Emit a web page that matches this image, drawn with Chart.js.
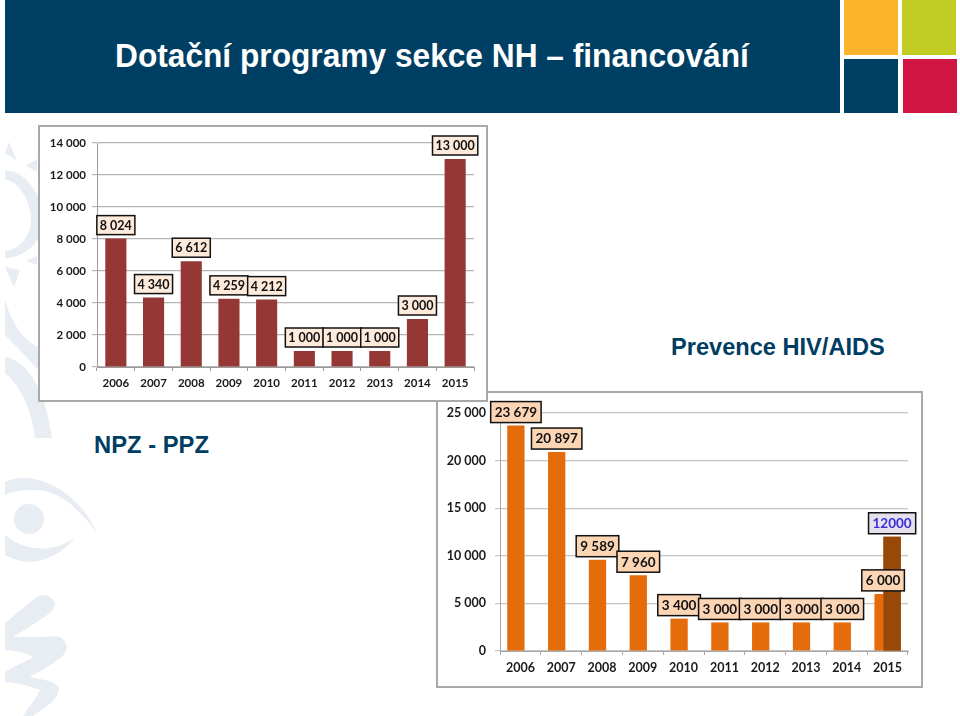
<!DOCTYPE html>
<html lang="cs">
<head>
<meta charset="utf-8">
<title>Dotační programy sekce NH – financování</title>
<script src="https://cdn.jsdelivr.net/npm/chart.js@4"></script>
<style>
  html, body { margin: 0; padding: 0; background: #fff; }
  body { position: relative; width: 960px; height: 716px; overflow: hidden; font-family: "Liberation Sans", Arial, sans-serif; }
  .block { position: absolute; }
  .label { position: absolute; margin: 0; font-weight: bold; color: #003d63; white-space: pre; line-height: 1; }
  .frame { position: absolute; background: #fff; box-sizing: border-box; border: 2px solid #a9a9a9; }
  .frame canvas { position: absolute; left: -2px; top: -2px; }
  #decor { position: absolute; left: 0; top: 0; }
</style>
</head>
<body>
<svg id="decor" width="960" height="716" viewBox="0 0 960 716">
  <g fill="#e7edf2">
    <path d="M5 153 L9 142 L17 161 Z"/>
    <path d="M26 166 L37 159 L37 172 Z"/>
    <path d="M5 171 C20 168 40 190 45 215 C45 240 25 258 5 258 L5 251 C20 250 32 235 31 217 C30 200 18 180 5 180 Z"/>
    <path d="M26 261 L37 256 L37 265 Z"/>
    <path d="M5 267 L20 270 L14 287 Z"/>
    <path d="M5 300 C12 325 25 342 40 348 L40 372 C28 358 15 345 5 335 Z"/>
    <path d="M5 357 C25 360 45 385 52 438 L35 438 C32 410 20 385 5 373 Z"/>
    <path d="M5 482 C30 470 75 485 97 533 C80 510 60 490 35 490 C20 490 10 492 5 495 Z"/>
    <path d="M5 535 C30 555 60 550 75 537 C60 558 30 570 5 555 Z"/>
    <circle cx="29" cy="519" r="15"/>
    <path d="M5 623 L33 600 C40 593 50 593 55 603 C55 612 45 617 13 637 L43 637 C55 636 64 634 67 647 C66 660 40 670 30 677 C40 680 59 680 59 690 C57 700 45 708 33 716 L23 716 C30 705 38 696 40 690 C25 684 10 682 5 682 L5 672 C15 665 30 660 33 657 C25 652 10 650 5 650 Z"/>
  </g>
</svg>

<div class="block" style="left:5px;top:0;width:835px;height:113px;background:#003f64"></div>
<div class="block" style="left:844px;top:0;width:54px;height:55px;background:#fbb42c"></div>
<div class="block" style="left:902px;top:0;width:54px;height:55px;background:#c1cd23"></div>
<div class="block" style="left:844px;top:59px;width:54px;height:54px;background:#003f64"></div>
<div class="block" style="left:903px;top:59px;width:54px;height:54px;background:#d01543"></div>

<h1 class="label" style="left:115px;top:39px;font-size:33px;color:#fff;transform:scaleX(0.96);transform-origin:left top">Dotační programy sekce NH – financování</h1>
<p class="label" style="left:671px;top:336px;font-size:23.6px">Prevence HIV/AIDS</p>
<p class="label" style="left:94px;top:433px;font-size:23.8px">NPZ - PPZ</p>

<div class="frame" style="left:436px;top:391px;width:487px;height:297px"><canvas id="hivChart" width="487" height="297"></canvas></div>
<div class="frame" style="left:38px;top:125px;width:450px;height:277px"><canvas id="npzChart" width="450" height="277"></canvas></div>

<script>
const years = ['2006', '2007', '2008', '2009', '2010', '2011', '2012', '2013', '2014', '2015']

const npzValues = [8024, 4340, 6612, 4259, 4212, 1000, 1000, 1000, 3000, 13000]
const npzLabels = ['8 024', '4 340', '6 612', '4 259', '4 212', '1 000', '1 000', '1 000', '3 000', '13 000']
const npzTicks = ['0', '2 000', '4 000', '6 000', '8 000', '10 000', '12 000', '14 000']

const hivValues = [23679, 20897, 9589, 7960, 3400, 3000, 3000, 3000, 3000, 6000]
const hivLabels = ['23 679', '20 897', '9 589', '7 960', '3 400', '3 000', '3 000', '3 000', '3 000', '6 000']
const hivExtra = [null, null, null, null, null, null, null, null, null, 12000]
const hivExtraLabels = ['', '', '', '', '', '', '', '', '', '12000']
const hivTicks = ['0', '5 000', '10 000', '15 000', '20 000', '25 000']

const fontName = 'Lato'
const textColor = '#1a1a1a'

// draws the boxed value labels, sitting just above each bar
const boxLabels = {
  id: 'boxLabels',
  afterDatasetsDraw(chart, args, opts) {
    const ctx = chart.ctx
    // the second series has to lie over the first one
    if (opts.redraw !== undefined) {
      chart.getDatasetMeta(opts.redraw).controller.draw()
    }
    ctx.save()
    opts.sets.forEach(set => {
      const meta = chart.getDatasetMeta(set.dataset)
      set.texts.forEach((text, i) => {
        if (!text) return
        const bar = meta.data[i]
        ctx.font = `bold ${opts.size}px ${fontName}`
        const w = ctx.measureText(text).width + opts.padX * 2
        const h = opts.height
        const x = bar.x - w / 2
        const y = bar.y - opts.gap - h
        ctx.fillStyle = set.fill
        ctx.strokeStyle = '#111'
        ctx.lineWidth = 1.5
        ctx.fillRect(x, y, w, h)
        ctx.strokeRect(x, y, w, h)
        ctx.fillStyle = set.color
        ctx.textAlign = 'center'
        ctx.textBaseline = 'middle'
        ctx.fillText(text, bar.x, y + h / 2 + 0.5)
      })
    })
    ctx.restore()
  }
}

const makeScales = (max, step, tickLabels, size, yWidth, xHeight, yPad, gridColor, axisColor) => ({
  x: {
    grid: { offset: true, drawOnChartArea: false, drawTicks: true, tickLength: 4, color: axisColor },
    border: { color: axisColor },
    ticks: { color: textColor, font: { family: fontName, size: size, weight: 'bold' }, padding: 5, maxRotation: 0, autoSkip: false },
    afterFit: scale => { scale.height = xHeight }
  },
  y: {
    min: 0,
    max: max,
    grid: { color: gridColor, lineWidth: 1.2, tickLength: 5 },
    border: { color: axisColor },
    ticks: {
      stepSize: step,
      color: textColor,
      font: { family: fontName, size: size, weight: 'bold' },
      padding: yPad,
      callback: (value, index) => tickLabels[index]
    },
    afterFit: scale => { scale.width = yWidth }
  }
})

new Chart(document.getElementById('npzChart'), {
  type: 'bar',
  data: {
    labels: years,
    datasets: [{
      data: npzValues,
      backgroundColor: '#953735',
      barPercentage: 0.56,
      categoryPercentage: 1
    }]
  },
  options: {
    responsive: false,
    animation: false,
    layout: { padding: { top: 18, right: 14, left: 0, bottom: 0 } },
    scales: makeScales(14000, 2000, npzTicks, 11.5, 59, 35, 6, '#b4b4b4', '#9a9a9a'),
    plugins: {
      legend: { display: false },
      tooltip: { enabled: false },
      boxLabels: {
        size: 12.5, padX: 3, height: 19, gap: 4,
        sets: [{ dataset: 0, texts: npzLabels, fill: '#fdeadb', color: '#111' }]
      }
    }
  },
  plugins: [boxLabels]
})

new Chart(document.getElementById('hivChart'), {
  type: 'bar',
  data: {
    labels: years,
    datasets: [{
      data: hivValues,
      backgroundColor: '#e46c0a',
      barPercentage: 1.92,
      categoryPercentage: 0.442
    }, {
      data: hivExtra,
      backgroundColor: '#984807',
      barPercentage: 1.92,
      categoryPercentage: 0.442
    }]
  },
  options: {
    responsive: false,
    animation: false,
    layout: { padding: { top: 22, right: 15, left: 0, bottom: 0 } },
    scales: makeScales(25000, 5000, hivTicks, 12.5, 64, 37, 9, '#c4c4c4', '#a8a8a8'),
    plugins: {
      legend: { display: false },
      tooltip: { enabled: false },
      boxLabels: {
        size: 13.5, padX: 4, height: 21, gap: 3, redraw: 1,
        sets: [
          { dataset: 1, texts: hivExtraLabels, fill: '#e6e0ec', color: '#3a2fd6' },
          { dataset: 0, texts: hivLabels, fill: '#fcd5b5', color: '#111' }
        ]
      }
    }
  },
  plugins: [boxLabels]
})
</script>
</body>
</html>
